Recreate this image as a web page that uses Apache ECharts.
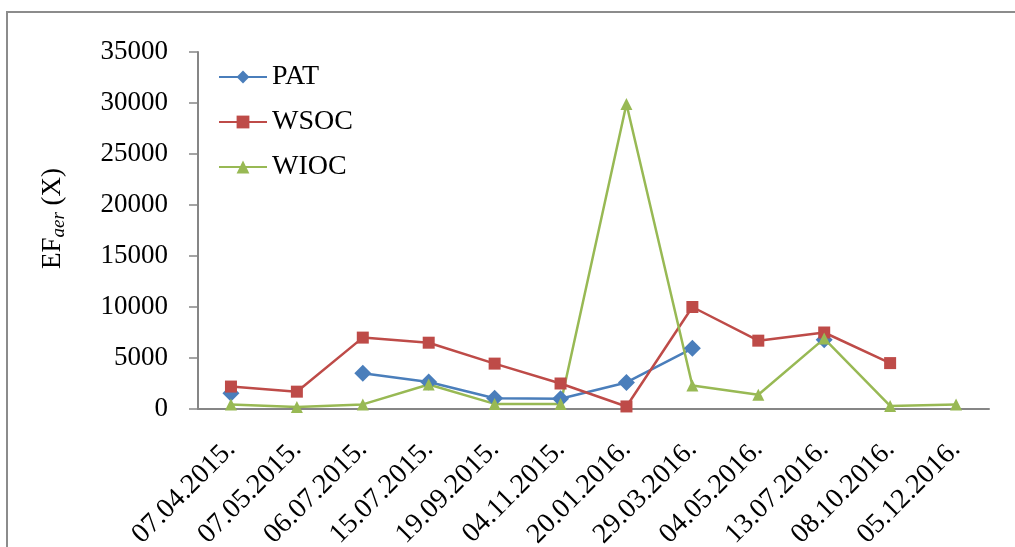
<!DOCTYPE html>
<html>
<head>
<meta charset="UTF-8">
<title>EF aer</title>
<script src="https://cdn.jsdelivr.net/npm/echarts@6/dist/echarts.min.js"></script>
<style>
    html, body { margin: 0; padding: 0; background: #fff; }
    #chart { width: 1015px; height: 547px; }
</style>
</head>
<body>
<div id="chart"></div>
<script>
    // sampling dates
    const dates = ['07.04.2015.', '07.05.2015.', '06.07.2015.', '15.07.2015.', '19.09.2015.', '04.11.2015.',
                   '20.01.2016.', '29.03.2016.', '04.05.2016.', '13.07.2016.', '08.10.2016.', '05.12.2016.'];
    // values, null = no point
    const pat  = [1550, null, 3500, 2650, 1050, 1000, 2600, 5950, null, 6800, null, null];
    const wsoc = [2200, 1700, 7000, 6500, 4450, 2500, 250, 10000, 6700, 7500, 4500, null];
    const wioc = [450, 200, 450, 2400, 500, 500, 29900, 2300, 1400, 6900, 300, 450];

    const font = 'Liberation Serif';
    const axisGrey = '#868686';

    const chart = echarts.init(document.getElementById('chart'));

    function lineSeries(name, data, color, symbol, size) {
        return {
            name: name,
            type: 'line',
            data: data,
            symbol: symbol,
            symbolSize: size,
            connectNulls: false,
            lineStyle: { color: color, width: 2.5 },
            itemStyle: { color: color },
            emphasis: { disabled: true }
        };
    }

    chart.setOption({
        animation: false,
        backgroundColor: '#fff',
        graphic: [{
            type: 'rect',
            shape: { x: 7, y: 12, width: 1100, height: 600 },
            style: { fill: 'none', stroke: '#8c8c8c', lineWidth: 2 }
        }],
        grid: { left: 198, right: 26, top: 52, bottom: 138, outerBoundsMode: 'none', containLabel: false },
        legend: {
            orient: 'vertical',
            left: 213,
            top: 58,
            itemWidth: 48,
            itemHeight: 16,
            itemGap: 17,
            textStyle: { fontFamily: font, fontSize: 28, color: '#000' },
            data: ['PAT', 'WSOC', 'WIOC']
        },
        xAxis: {
            type: 'category',
            data: dates,
            boundaryGap: true,
            axisLine: { lineStyle: { color: axisGrey, width: 2 } },
            axisTick: { show: false },
            axisLabel: {
                interval: 0,
                rotate: 45,
                margin: 36,
                fontFamily: font,
                fontSize: 28,
                color: '#000'
            }
        },
        yAxis: {
            type: 'value',
            min: 0,
            max: 35000,
            interval: 5000,
            splitLine: { show: false },
            axisLine: { show: true, lineStyle: { color: axisGrey, width: 2 } },
            axisTick: { show: true, length: 9, lineStyle: { color: axisGrey, width: 1.5 } },
            axisLabel: {
                margin: 30,
                fontFamily: font,
                fontSize: 27,
                color: '#000',
                formatter: function (v) { return String(v); }
            },
            name: '{n|EF}{s|aer}{n| (X)}',
            nameLocation: 'middle',
            nameGap: 130,
            nameTextStyle: {
                padding: [0, 0, 0, 24],
                rich: {
                    n: { fontFamily: font, fontSize: 27, color: '#000' },
                    s: { fontFamily: font, fontSize: 19, fontStyle: 'italic', color: '#000', verticalAlign: 'bottom', padding: [12, 0, 0, 0] }
                }
            }
        },
        series: [
            lineSeries('PAT', pat, '#4a7ebb', 'diamond', 17),
            lineSeries('WSOC', wsoc, '#be4b48', 'rect', 12),
            lineSeries('WIOC', wioc, '#98b954', 'triangle', 12)
        ]
    });

    window.onresize = function () {
        chart.resize();
    };
</script>
</body>
</html>
